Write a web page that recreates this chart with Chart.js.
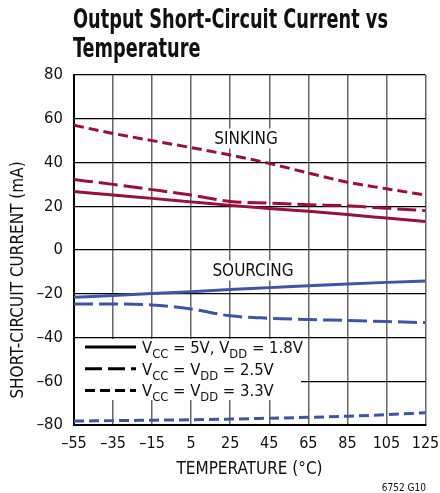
<!DOCTYPE html>
<html>
<head>
<meta charset="utf-8">
<script src="https://cdn.jsdelivr.net/npm/chart.js@4"></script>
<style>
  html, body { margin: 0; padding: 0; background: #fff; }
  #wrap { width: 440px; height: 493px; position: relative; }
</style>
</head>
<body>
<div id="wrap"><canvas id="chart" width="440" height="493"></canvas></div>
<script>
var temps = [-55, -35, -15, 5, 25, 45, 65, 85, 105, 125];
var yTicks = [-80, -60, -40, -20, 0, 20, 40, 60, 80];

// sinking current (mA)
var sink18 = [26.7, 25.1, 23.6, 22.0, 20.4, 19.0, 17.7, 16.2, 14.6, 13.0];
var sink25 = [32.2, 30.0, 27.6, 25.1, 22.2, 21.4, 20.7, 20.2, 19.1, 18.0];
var sink33 = [57.0, 53.3, 50.0, 46.8, 43.4, 39.6, 35.2, 31.0, 28.0, 25.1];
// sourcing current (mA)
var src18 = [-21.6, -20.8, -19.9, -19.1, -18.1, -17.2, -16.3, -15.5, -14.8, -14.2];
var src25 = [-24.7, -24.7, -25.1, -27.0, -30.1, -31.2, -31.8, -32.2, -32.7, -33.2];
var src33 = [-78.2, -78.0, -77.8, -77.6, -77.3, -76.9, -76.5, -76.0, -75.3, -74.4];

var RED = '#9a0f3d';
var BLUE = '#3d56a8';
var FONT = '"Liberation Sans Narrow", "DejaVu Sans Condensed", sans-serif';

function pts(arr) {
    return temps.map(function (t, i) { return { x: t, y: arr[i] }; });
}
function minus(v) {
    return String(v).replace('-', '\u2013');
}
function ds(arr, color, dash) {
    return {
        data: pts(arr),
        borderColor: color,
        borderWidth: 3,
        borderDash: dash,
        pointRadius: 0,
        fill: false,
        cubicInterpolationMode: 'monotone'
    };
}

// text with subscripts, parts = [[text, isSub], ...]
function drawSub(ctx, parts, x, y, size) {
    ctx.textAlign = 'left';
    ctx.textBaseline = 'alphabetic';
    parts.forEach(function (p) {
        var s = p[1] ? size * 0.78 : size;
        ctx.font = s + 'px ' + FONT;
        ctx.fillText(p[0], x, p[1] ? y + 5 : y);
        x += ctx.measureText(p[0]).width;
    });
}

function labelBox(ctx, text, cx, cy) {
    ctx.font = '17px ' + FONT;
    var w = ctx.measureText(text).width;
    ctx.fillStyle = '#fff';
    ctx.fillRect(cx - w / 2 - 3, cy - 10, w + 6, 20);
    ctx.fillStyle = '#111';
    ctx.textAlign = 'center';
    ctx.textBaseline = 'middle';
    ctx.fillText(text, cx, cy + 1);
}

var overlay = {
    id: 'overlay',
    afterDraw: function (chart) {
        var ctx = chart.ctx;
        ctx.save();

        // title
        ctx.fillStyle = '#111';
        ctx.font = 'bold 26px ' + FONT;
        ctx.textAlign = 'left';
        ctx.textBaseline = 'alphabetic';
        var l1 = 'Output Short-Circuit Current vs';
        var sx = 315 / ctx.measureText(l1).width;
        ctx.save();
        ctx.translate(73, 28);
        ctx.scale(sx, 1);
        ctx.fillText(l1, 0, 0);
        ctx.fillText('Temperature', 0, 29);
        ctx.restore();

        // in-plot labels
        labelBox(ctx, 'SINKING', 246, 138.5);
        labelBox(ctx, 'SOURCING', 253, 270.5);

        // legend
        ctx.fillStyle = '#fff';
        ctx.fillRect(75, 339, 226, 61);
        var rows = [
            { dash: [], parts: [['V'], ['CC', 1], [' = 5V, V'], ['DD', 1], [' = 1.8V']] },
            { dash: [17, 6], parts: [['V'], ['CC', 1], [' = V'], ['DD', 1], [' = 2.5V']] },
            { dash: [10, 5], parts: [['V'], ['CC', 1], [' = V'], ['DD', 1], [' = 3.3V']] }
        ];
        rows.forEach(function (r, i) {
            var y = 347 + i * 21.7;
            ctx.strokeStyle = '#000';
            ctx.lineWidth = 3;
            ctx.setLineDash(r.dash);
            ctx.beginPath();
            ctx.moveTo(85, y);
            ctx.lineTo(136, y);
            ctx.stroke();
            ctx.setLineDash([]);
            ctx.fillStyle = '#111';
            drawSub(ctx, r.parts, 142, y + 6, 16.5);
        });

        // axis titles
        ctx.fillStyle = '#111';
        ctx.font = '17px ' + FONT;
        ctx.textAlign = 'center';
        ctx.textBaseline = 'middle';
        ctx.fillText('TEMPERATURE (\u00b0C)', 249.5, 469.5);
        ctx.save();
        ctx.translate(18.5, 280);
        ctx.rotate(-Math.PI / 2);
        ctx.fillText('SHORT-CIRCUIT CURRENT (mA)', 0, 0);
        ctx.restore();

        // figure id
        ctx.font = '10px ' + FONT;
        ctx.textAlign = 'right';
        ctx.fillText('6752 G10', 426, 488.5);

        ctx.restore();
    }
};

var ctx = document.getElementById('chart').getContext('2d');
var chart = new Chart(ctx, {
    type: 'line',
    data: {
        datasets: [
            ds(sink18, RED, []),
            ds(sink25, RED, [19, 6]),
            ds(sink33, RED, [10, 5]),
            ds(src18, BLUE, []),
            ds(src25, BLUE, [19, 6]),
            ds(src33, BLUE, [10, 5])
        ]
    },
    options: {
        responsive: false,
        animation: false,
        devicePixelRatio: 1,
        layout: { padding: { top: 75, right: 14.5, left: 0, bottom: 0 } },
        plugins: { legend: { display: false }, tooltip: { enabled: false } },
        scales: {
            x: {
                type: 'linear',
                min: -55,
                max: 125,
                afterBuildTicks: function (s) { s.ticks = temps.map(function (v) { return { value: v }; }); },
                afterFit: function (s) { s.height = 68; s.paddingLeft = 0; s.paddingRight = 0; },
                grid: { color: '#666', lineWidth: 1.5, drawTicks: false },
                border: { color: '#000', width: 2 },
                ticks: {
                    padding: 9,
                    color: '#111',
                    font: { family: FONT, size: 16 },
                    maxRotation: 0,
                    autoSkip: false,
                    callback: function (v) { return minus(v); }
                }
            },
            y: {
                min: -80,
                max: 80,
                afterBuildTicks: function (s) { s.ticks = yTicks.map(function (v) { return { value: v }; }); },
                afterFit: function (s) { s.width = 74; s.paddingTop = 0; s.paddingBottom = 0; },
                grid: { color: '#000', lineWidth: 1.3, drawTicks: false },
                border: { color: '#000', width: 2 },
                ticks: {
                    padding: 11,
                    color: '#111',
                    font: { family: FONT, size: 16.5 },
                    callback: function (v) { return minus(v); }
                }
            }
        }
    },
    plugins: [overlay]
});
</script>
</body>
</html>
